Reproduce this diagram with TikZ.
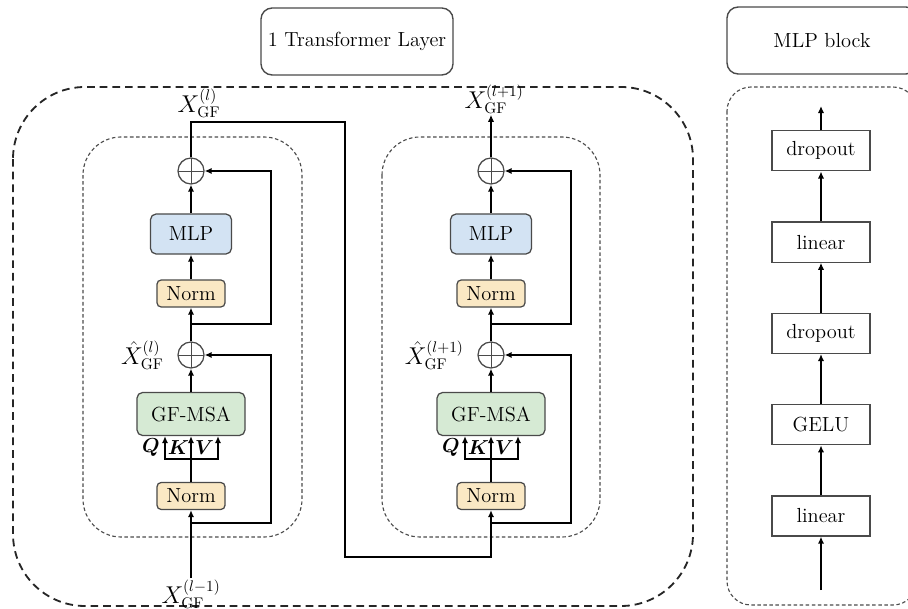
\documentclass[tikz,border=0pt]{standalone}
\usepackage{bm}
\usetikzlibrary{positioning}
\usetikzlibrary{chains}
\usetikzlibrary{arrows.meta}
\definecolor{mlpblue}{HTML}{D3E3F3}
\definecolor{normtan}{HTML}{FAE8C4}
\definecolor{msagreen}{HTML}{D6EAD4}
\definecolor{edgegray}{HTML}{4A4A4A}
\tikzset{
	>={Latex[length=5pt,width=4.5pt]},
	unit/.style={
		rectangle,
		rounded corners=4pt,
		draw=edgegray, line width=0.9pt,
		inner sep=0pt},
	mlpbox/.style={unit, fill=mlpblue, minimum width=2.025cm, minimum height=1cm},
	normbox/.style={unit, fill=normtan, rounded corners=3pt, minimum width=1.7cm, minimum height=0.675cm},
	msabox/.style={unit, fill=msagreen, minimum width=2.7cm, minimum height=1.075cm},
	addnode/.style={
		circle, draw=edgegray, line width=0.9pt,
		minimum size=0.65cm, inner sep=0pt,
		path picture={\draw[edgegray, line width=0.7pt]
			(path picture bounding box.north) -- (path picture bounding box.south)
			(path picture bounding box.west) -- (path picture bounding box.east);}},
	layerbox/.style={
		rectangle,
		draw=edgegray, line width=0.9pt,
		minimum width=2.45cm,
		minimum height=1cm,
		on chain},
	titlebox/.style={rectangle, rounded corners=8pt, draw=edgegray, line width=1pt, minimum height=1.675cm},
	flow/.style={draw, line width=1.7pt},
	every join/.style={->, line width=1.5pt},
	outerframe/.style={draw=black!85, line width=1.3pt, dash pattern=on 5.5pt off 3.5pt, rounded corners=1.8cm},
	innerframe/.style={draw=black!70, line width=0.8pt, dash pattern=on 2.5pt off 1.8pt, rounded corners=0.95cm},
	qkv/.style={font=\fontsize{14}{16}\selectfont, inner sep=0pt},
	tag/.style={inner sep=1pt, font=\fontsize{16}{18}\selectfont},
}

\begin{document}
\begin{tikzpicture}[x=0.025cm, y=-0.025cm, font=\fontsize{14.5}{17}\selectfont]
	\useasboundingbox (0,0) rectangle (908,609);

	% frames and titles
	\node[titlebox, minimum width=4.8cm] (ttl) at (357,41.5) {1 Transformer Layer};
	\node[titlebox, minimum width=4.75cm] (mlpttl) at (822,40.5) {MLP block};
	\draw[outerframe] (13,87) rectangle (693,606);
	\draw[innerframe] (83,137) rectangle (302,537);
	\draw[innerframe] (382,137) rectangle (600,537);
	\draw[innerframe, rounded corners=0.6cm] (727,87) rectangle (917,605);

	% the two encoder layers
	\foreach \c/\cx/\lay in {a/191/l, b/491/l+1}{
		\node[addnode] (sumA\c) at (\cx,171) {};
		\node[mlpbox] (mlp\c) at (\cx,234) {MLP};
		\node[normbox] (normA\c) at (\cx,293.5) {Norm};
		\node[addnode] (sumB\c) at (\cx,355) {};
		\node[msabox] (msa\c) at (\cx,414) {GF-MSA};
		\node[normbox] (normB\c) at (\cx,496) {Norm};
		\node[tag, left=0.3cm of sumB\c] (hat\c) {$\hat{X}_{\mathrm{GF}}^{(\lay)}$};
		\coordinate (brA\c) at (\cx,324);
		\coordinate (brB\c) at (\cx,523);
		\coordinate (q\c) at (\cx-26,459);
		\coordinate (v\c) at (\cx+27,459);
		\node[qkv] (qlab\c) at (\cx-40,448) {$\bm{Q}$};
		\node[qkv] (klab\c) at (\cx-12.5,448) {$\bm{K}$};
		\node[qkv] (vlab\c) at (\cx+13.5,448) {$\bm{V}$};

		\draw[flow, ->] (normB\c) -- (msa\c);
		\draw[flow, <->] (msa\c.south -| q\c) -- (q\c) -- (v\c) -- (msa\c.south -| v\c);
		\draw[flow, ->] (msa\c) -- (sumB\c);
		\draw[flow, ->] (brB\c) -- (\cx+80,523) |- (sumB\c);
		\draw[flow, ->] (sumB\c) -- (normA\c);
		\draw[flow, ->] (normA\c) -- (mlp\c);
		\draw[flow, ->] (mlp\c) -- (sumA\c);
		\draw[flow, ->] (brA\c) -- (\cx+80,324) |- (sumA\c);
	}

	% input, hand-over and output
	\node[tag] (xin) at (191,594) {$X_{\mathrm{GF}}^{(l-1)}$};
	\node[tag] (xa) at (199,103) {$X_{\mathrm{GF}}^{(l)}$};
	\node[tag] (xb) at (494,99) {$X_{\mathrm{GF}}^{(l+1)}$};
	\draw[flow, ->] (xin.north -| normBa) -- (normBa);
	\draw[flow, ->] (sumAa) -- (191,122) -- (345,122) -- (345,557) -| (normBb);
	\draw[flow, ->] (sumAb) -- (sumAb |- xb.south);

	% MLP block
	\begin{scope}[start chain=going above, node distance=1.25cm]
		\node[layerbox] (lin1) at (821,516) {linear};
		\node[layerbox, join] (gelu) {GELU};
		\node[layerbox, join] (drop1) {dropout};
		\node[layerbox, join] (lin2) {linear};
		\node[layerbox, join] (drop2) {dropout};
	\end{scope}
	\coordinate (mlpin) at (821,590);
	\coordinate (mlpout) at (821,106);
	\draw[->, line width=1.5pt] (mlpin) -- (lin1);
	\draw[->, line width=1.5pt] (drop2) -- (mlpout);
\end{tikzpicture}
\end{document}
